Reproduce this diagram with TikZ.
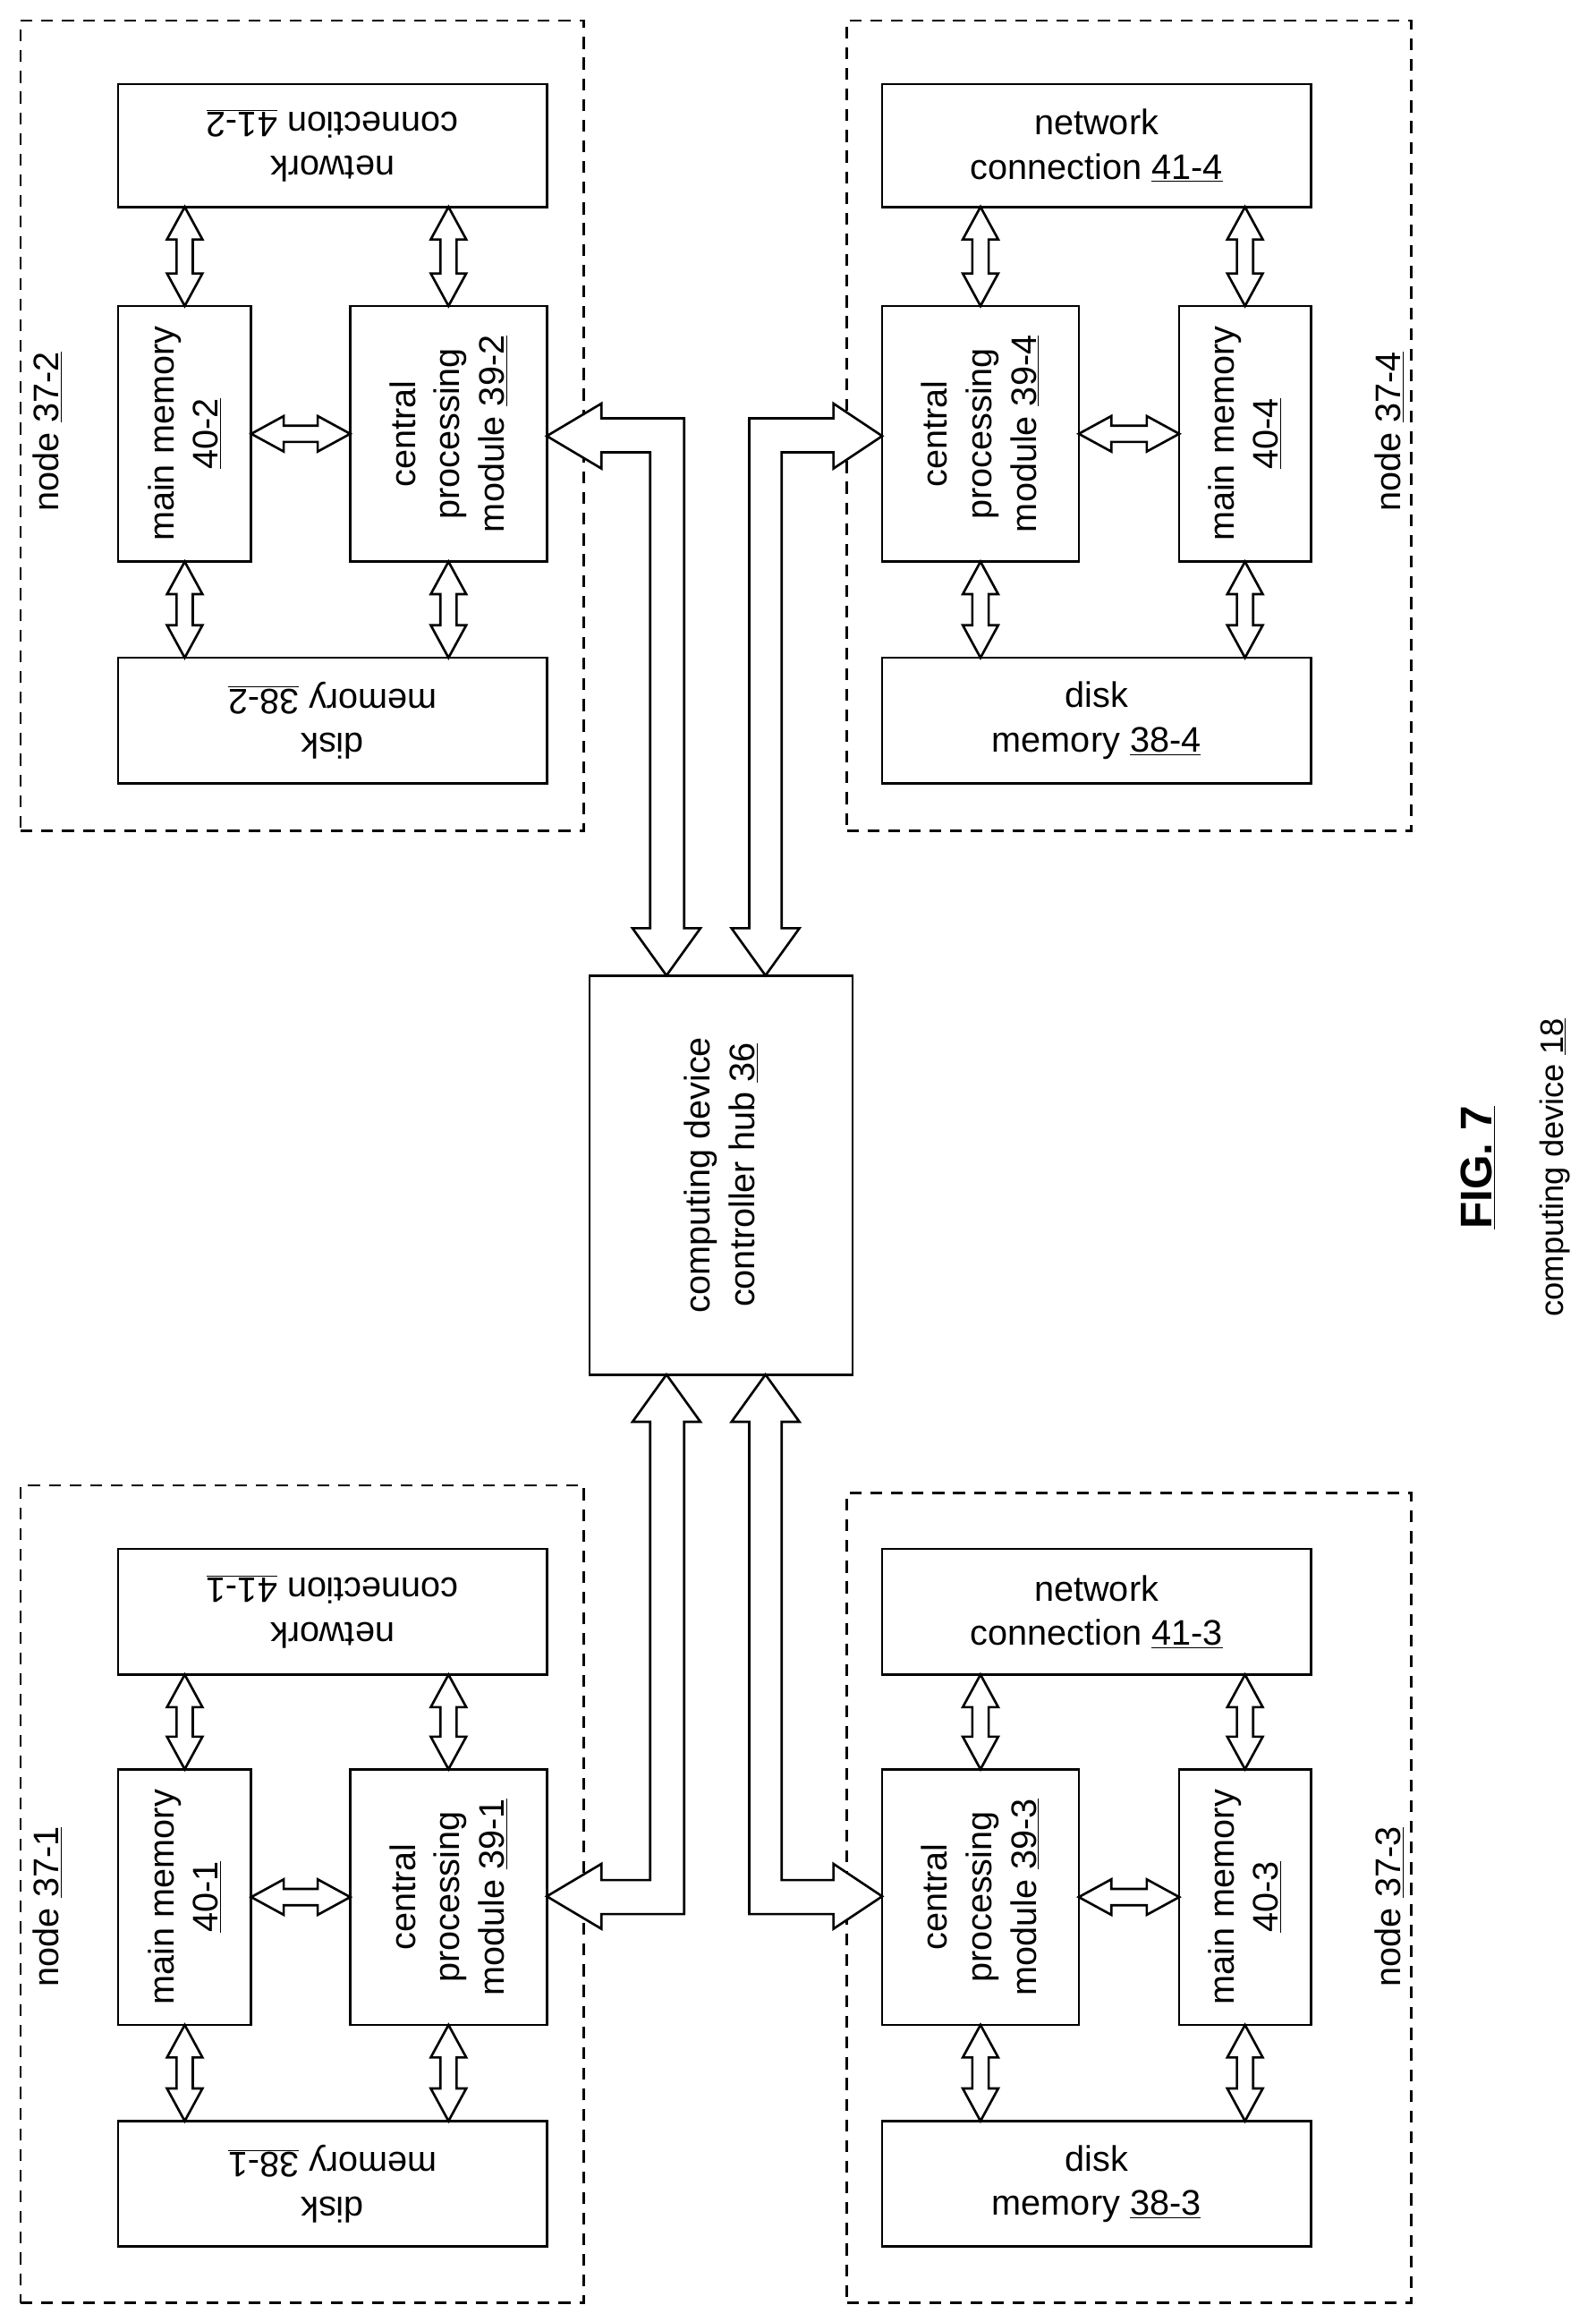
\documentclass[tikz,border=0pt]{standalone}
\usepackage{fontspec}
\setmainfont{Liberation Sans}
\usetikzlibrary{fit}
\begin{document}
\begin{tikzpicture}[x=1pt,y=-1pt,line width=1.6pt,
  box/.style={draw,inner sep=0pt,fit={#1}},
  grp/.style={draw,dash pattern=on 8pt off 6pt,inner sep=0pt,fit={#1}},
  txt/.style={font=\fontsize{24}{30}\selectfont,align=center,inner sep=0pt},
  darr/.style={draw,fill=white,line width=1.6pt,line join=miter}]
\useasboundingbox (0,0) rectangle (1080,1571);
\newcommand\vda[3]{\path[darr] (#1,#2) -- ({#1+12},{#2+22}) -- ({#1+5.5},{#2+22}) -- ({#1+5.5},{#3-22}) -- ({#1+12},{#3-22}) -- (#1,#3) -- ({#1-12},{#3-22}) -- ({#1-5.5},{#3-22}) -- ({#1-5.5},{#2+22}) -- ({#1-12},{#2+22}) -- cycle;}
\newcommand\hda[3]{\path[darr] (#2,#1) -- ({#2+22},{#1-12}) -- ({#2+22},{#1-5.5}) -- ({#3-22},{#1-5.5}) -- ({#3-22},{#1-12}) -- (#3,#1) -- ({#3-22},{#1+12}) -- ({#3-22},{#1+5.5}) -- ({#2+22},{#1+5.5}) -- ({#2+22},{#1+12}) -- cycle;}
% groups
\node[grp={(14,14)(395,562)}] (g2) {};
\node[grp={(573,14)(955,562)}] (g4) {};
\node[grp={(14,1005)(395,1558)}] (g1) {};
\node[grp={(573,1010)(955,1558)}] (g3) {};
% hub
\node[box={(399,660)(577,930)}] (hub) {};
\node[txt,rotate=90] at (hub.center) {computing device\\controller hub \underline{36}};
% top-left node 37-2
\node[box={(80,57)(370,140)}] (n2) {};
\node[txt,rotate=180] at (n2.center) {network\\connection \underline{41-2}};
\node[box={(80,207)(170,380)}] (m2) {};
\node[txt,rotate=90] at (m2.center) {main memory\\\underline{40-2}};
\node[box={(237,207)(370,380)}] (c2) {};
\node[txt,rotate=90] at (c2.center) {central\\processing\\module \underline{39-2}};
\node[box={(80,445)(370,530)}] (d2) {};
\node[txt,rotate=180] at (d2.center) {disk\\memory \underline{38-2}};
\node[txt,rotate=90] (l2) at (32,292) {node \underline{37-2}};
% top-right node 37-4
\node[box={(597,57)(887,140)}] (n4) {};
\node[txt] at (n4.center) {network\\connection \underline{41-4}};
\node[box={(597,207)(730,380)}] (c4) {};
\node[txt,rotate=90] at (c4.center) {central\\processing\\module \underline{39-4}};
\node[box={(798,207)(887,380)}] (m4) {};
\node[txt,rotate=90] at (m4.center) {main memory\\\underline{40-4}};
\node[box={(597,445)(887,530)}] (d4) {};
\node[txt] at (d4.center) {disk\\memory \underline{38-4}};
\node[txt,rotate=90] (l4) at (940,292) {node \underline{37-4}};
% bottom-left node 37-1
\node[box={(80,1048)(370,1133)}] (n1) {};
\node[txt,rotate=180] at (n1.center) {network\\connection \underline{41-1}};
\node[box={(80,1197)(170,1370)}] (m1) {};
\node[txt,rotate=90] at (m1.center) {main memory\\\underline{40-1}};
\node[box={(237,1197)(370,1370)}] (c1) {};
\node[txt,rotate=90] at (c1.center) {central\\processing\\module \underline{39-1}};
\node[box={(80,1435)(370,1520)}] (d1) {};
\node[txt,rotate=180] at (d1.center) {disk\\memory \underline{38-1}};
\node[txt,rotate=90] (l1) at (32,1290) {node \underline{37-1}};
% bottom-right node 37-3
\node[box={(597,1048)(887,1133)}] (n3) {};
\node[txt] at (n3.center) {network\\connection \underline{41-3}};
\node[box={(597,1197)(730,1370)}] (c3) {};
\node[txt,rotate=90] at (c3.center) {central\\processing\\module \underline{39-3}};
\node[box={(798,1197)(887,1370)}] (m3) {};
\node[txt,rotate=90] at (m3.center) {main memory\\\underline{40-3}};
\node[box={(597,1435)(887,1520)}] (d3) {};
\node[txt] at (d3.center) {disk\\memory \underline{38-3}};
\node[txt,rotate=90] (l3) at (940,1290) {node \underline{37-3}};
% small double arrows
\vda{125}{140}{207}\vda{125}{380}{445}\vda{303.5}{140}{207}\vda{303.5}{380}{445}\hda{293.5}{170}{237}
\vda{663.5}{140}{207}\vda{663.5}{380}{445}\vda{842.5}{140}{207}\vda{842.5}{380}{445}\hda{293.5}{730}{798}
\vda{125}{1133}{1197}\vda{125}{1370}{1435}\vda{303.5}{1133}{1197}\vda{303.5}{1370}{1435}\hda{1283.5}{170}{237}
\vda{663.5}{1133}{1197}\vda{663.5}{1370}{1435}\vda{842.5}{1133}{1197}\vda{842.5}{1370}{1435}\hda{1283.5}{730}{798}
% big arrows to hub
\path[darr] (451,660) -- (474,628) -- (463,628) -- (463,283) -- (407,283) -- (407,273) -- (370,295) -- (407,317) -- (407,306) -- (440,306) -- (440,628) -- (428,628) -- cycle;
\path[darr] (518,660) -- (541,628) -- (529,628) -- (529,306) -- (564,306) -- (564,317) -- (597,295) -- (564,273) -- (564,283) -- (507,283) -- (507,628) -- (495,628) -- cycle;
\path[darr] (451,930) -- (474,962) -- (463,962) -- (463,1295) -- (407,1295) -- (407,1305) -- (370,1283) -- (407,1261) -- (407,1272) -- (440,1272) -- (440,962) -- (428,962) -- cycle;
\path[darr] (518,930) -- (541,962) -- (529,962) -- (529,1272) -- (564,1272) -- (564,1261) -- (597,1283) -- (564,1305) -- (564,1295) -- (507,1295) -- (507,962) -- (495,962) -- cycle;
% caption
\node[rotate=90,inner sep=0pt,font=\fontsize{30}{36}\selectfont\bfseries] (fig) at (1000,790) {\underline{FIG. 7}};
\node[rotate=90,inner sep=0pt,font=\fontsize{22}{26}\selectfont] (cap) at (1052,790) {computing device \underline{18}};
\end{tikzpicture}
\end{document}
